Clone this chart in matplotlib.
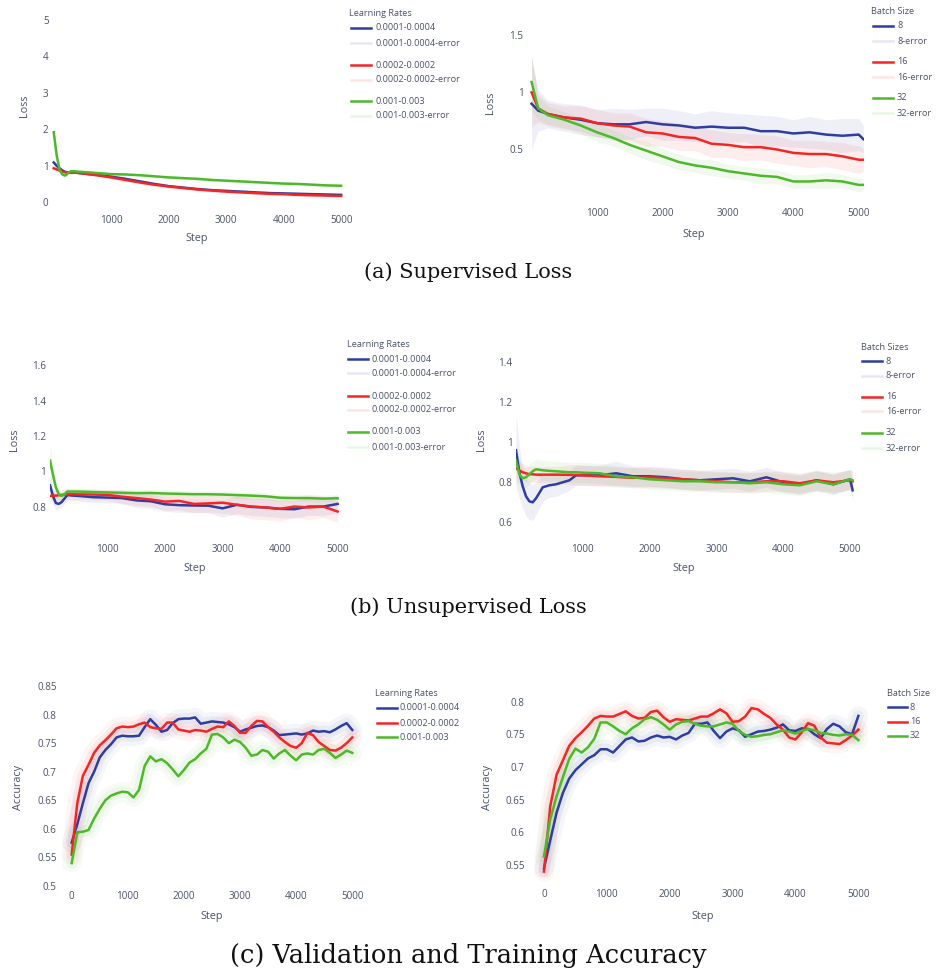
import numpy as np
import matplotlib.pyplot as plt
from matplotlib.lines import Line2D

plt.rcParams['font.family'] = ['Open Sans', 'DejaVu Sans']

W, H = 936, 976
BLUE = '#2e3d9f'
RED = '#f42525'
GREEN = '#4db82a'
TXT = '#4a5268'

# ---- (a) supervised loss, learning rates
sup_lr_steps = [0, 50, 100, 150, 200, 250, 300, 350, 400, 500, 750, 1000, 1250, 1500,
                1750, 2000, 2250, 2500, 2750, 3000, 3250, 3500, 3750, 4000, 4250, 4500, 4750, 5000]
sup_lr_blue = [1.09, 1.00, 0.93, 0.87, 0.83, 0.82, 0.81, 0.82, 0.81, 0.79, 0.75, 0.70, 0.64, 0.57,
               0.50, 0.44, 0.40, 0.36, 0.33, 0.31, 0.29, 0.27, 0.25, 0.24, 0.23, 0.22, 0.21, 0.20]
sup_lr_red = [0.93, 0.90, 0.87, 0.84, 0.82, 0.81, 0.81, 0.82, 0.81, 0.79, 0.74, 0.68, 0.61, 0.54,
              0.48, 0.43, 0.39, 0.35, 0.32, 0.29, 0.27, 0.25, 0.23, 0.22, 0.20, 0.19, 0.18, 0.17]
sup_lr_green = [1.92, 1.30, 0.90, 0.76, 0.73, 0.80, 0.85, 0.85, 0.84, 0.83, 0.80, 0.77, 0.76, 0.74,
                0.71, 0.68, 0.66, 0.64, 0.61, 0.59, 0.57, 0.55, 0.53, 0.51, 0.50, 0.48, 0.46, 0.45]
sup_lr_blue_err = [0.08, 0.07, 0.06, 0.05, 0.04, 0.04, 0.04, 0.04, 0.04, 0.04, 0.04, 0.05, 0.04, 0.04,
                   0.05, 0.04, 0.04, 0.05, 0.04, 0.04, 0.05, 0.04, 0.04, 0.05, 0.04, 0.04, 0.05, 0.04]
sup_lr_red_err = [0.07, 0.06, 0.05, 0.04, 0.04, 0.04, 0.04, 0.04, 0.04, 0.04, 0.04, 0.04, 0.05, 0.04,
                  0.04, 0.05, 0.04, 0.04, 0.05, 0.04, 0.04, 0.04, 0.05, 0.04, 0.04, 0.04, 0.04, 0.04]
sup_lr_green_err = [0.20, 0.15, 0.10, 0.06, 0.05, 0.04, 0.04, 0.04, 0.04, 0.04, 0.04, 0.04, 0.04, 0.04,
                    0.04, 0.04, 0.04, 0.04, 0.04, 0.04, 0.04, 0.04, 0.04, 0.04, 0.04, 0.04, 0.04, 0.04]

# ---- (a) supervised loss, batch size
sup_bs_steps = [0, 100, 250, 500, 750, 1000, 1250, 1500, 1750, 2000, 2250, 2500, 2750, 3000,
                3250, 3500, 3750, 4000, 4250, 4500, 4750, 5000, 5070]
sup_bs_8 = [0.90, 0.84, 0.81, 0.78, 0.76, 0.73, 0.72, 0.72, 0.74, 0.72, 0.71, 0.69, 0.70, 0.69,
            0.69, 0.66, 0.66, 0.64, 0.65, 0.63, 0.62, 0.63, 0.59]
sup_bs_16 = [1.00, 0.86, 0.81, 0.78, 0.77, 0.73, 0.71, 0.70, 0.65, 0.64, 0.61, 0.60, 0.55, 0.54,
             0.52, 0.52, 0.50, 0.47, 0.46, 0.46, 0.44, 0.41, 0.41]
sup_bs_32 = [1.09, 0.86, 0.80, 0.76, 0.71, 0.65, 0.60, 0.54, 0.49, 0.44, 0.39, 0.36, 0.34, 0.31,
             0.29, 0.27, 0.26, 0.22, 0.22, 0.23, 0.22, 0.19, 0.19]
sup_bs_8_err = [0.40, 0.18, 0.12, 0.12, 0.13, 0.12, 0.14, 0.13, 0.12, 0.14, 0.13, 0.12, 0.14, 0.13,
                0.12, 0.14, 0.13, 0.12, 0.14, 0.13, 0.15, 0.14, 0.12]
sup_bs_16_err = [0.30, 0.12, 0.10, 0.10, 0.11, 0.12, 0.11, 0.12, 0.12, 0.11, 0.12, 0.11, 0.12, 0.11,
                 0.12, 0.11, 0.12, 0.11, 0.12, 0.11, 0.12, 0.12, 0.10]
sup_bs_32_err = [0.25, 0.10, 0.08, 0.07, 0.07, 0.08, 0.07, 0.07, 0.08, 0.07, 0.07, 0.06, 0.07, 0.06,
                 0.06, 0.07, 0.06, 0.06, 0.06, 0.07, 0.06, 0.06, 0.05]

# ---- (b) unsupervised loss, learning rates
uns_lr_steps = [0, 50, 100, 150, 200, 250, 300, 400, 500, 750, 1000, 1250, 1500, 1750, 2000,
                2250, 2500, 2750, 3000, 3250, 3500, 3750, 4000, 4250, 4500, 4750, 5000]
uns_lr_blue = [0.92, 0.86, 0.82, 0.815, 0.825, 0.845, 0.865, 0.862, 0.86, 0.853, 0.851, 0.848, 0.835,
               0.83, 0.813, 0.808, 0.806, 0.805, 0.79, 0.81, 0.798, 0.795, 0.787, 0.785, 0.80, 0.80, 0.815]
uns_lr_red = [0.86, 0.862, 0.862, 0.864, 0.866, 0.868, 0.87, 0.87, 0.869, 0.868, 0.866, 0.856, 0.848,
              0.84, 0.828, 0.832, 0.815, 0.818, 0.822, 0.81, 0.80, 0.795, 0.787, 0.80, 0.795, 0.80, 0.772]
uns_lr_green = [1.06, 0.98, 0.91, 0.87, 0.86, 0.87, 0.885, 0.885, 0.885, 0.882, 0.88, 0.878, 0.876,
                0.877, 0.874, 0.872, 0.870, 0.870, 0.868, 0.865, 0.862, 0.858, 0.850, 0.848, 0.848, 0.845, 0.847]
uns_lr_blue_err = [0.06, 0.05, 0.04, 0.03, 0.03, 0.03, 0.03, 0.03, 0.03, 0.03, 0.03, 0.03, 0.04, 0.04,
                   0.04, 0.04, 0.04, 0.04, 0.05, 0.05, 0.05, 0.05, 0.05, 0.05, 0.05, 0.05, 0.05]
uns_lr_red_err = [0.03, 0.03, 0.03, 0.03, 0.03, 0.03, 0.03, 0.03, 0.03, 0.03, 0.03, 0.04, 0.04, 0.04,
                  0.05, 0.05, 0.05, 0.05, 0.06, 0.06, 0.07, 0.07, 0.07, 0.06, 0.07, 0.06, 0.06]
uns_lr_green_err = [0.10, 0.06, 0.04, 0.03, 0.02, 0.02, 0.02, 0.02, 0.02, 0.02, 0.02, 0.02, 0.02, 0.02,
                    0.02, 0.02, 0.02, 0.02, 0.02, 0.02, 0.02, 0.02, 0.02, 0.02, 0.02, 0.02, 0.02]

# ---- (b) unsupervised loss, batch sizes
uns_bs_steps = [0, 50, 100, 150, 200, 250, 300, 400, 500, 600, 800, 900, 1000, 1250, 1500, 1750,
                2000, 2250, 2500, 2750, 3000, 3250, 3500, 3750, 4000, 4250, 4500, 4750, 5000, 5040]
uns_bs_8 = [0.96, 0.85, 0.78, 0.73, 0.705, 0.70, 0.72, 0.775, 0.785, 0.79, 0.81, 0.835, 0.835, 0.835,
            0.845, 0.83, 0.83, 0.825, 0.815, 0.81, 0.815, 0.82, 0.805, 0.825, 0.80, 0.79, 0.81, 0.79,
            0.815, 0.76]
uns_bs_16 = [0.87, 0.86, 0.85, 0.845, 0.84, 0.84, 0.838, 0.838, 0.838, 0.838, 0.837, 0.836, 0.835,
             0.83, 0.827, 0.822, 0.825, 0.82, 0.815, 0.81, 0.805, 0.80, 0.80, 0.805, 0.805, 0.795,
             0.81, 0.80, 0.81, 0.805]
uns_bs_32 = [0.91, 0.84, 0.82, 0.825, 0.84, 0.855, 0.865, 0.86, 0.857, 0.855, 0.85, 0.85, 0.848,
             0.845, 0.83, 0.825, 0.815, 0.81, 0.805, 0.805, 0.80, 0.80, 0.795, 0.80, 0.79, 0.785,
             0.805, 0.79, 0.815, 0.81]
uns_bs_8_err = [0.18, 0.13, 0.11, 0.10, 0.09, 0.09, 0.08, 0.07, 0.06, 0.06, 0.05, 0.05, 0.05, 0.05,
                0.06, 0.05, 0.05, 0.05, 0.05, 0.05, 0.05, 0.05, 0.05, 0.05, 0.05, 0.05, 0.05, 0.05,
                0.05, 0.05]
uns_bs_16_err = [0.08, 0.05, 0.04, 0.04, 0.04, 0.04, 0.04, 0.04, 0.04, 0.04, 0.05, 0.05, 0.05, 0.05,
                 0.05, 0.05, 0.05, 0.05, 0.05, 0.05, 0.05, 0.05, 0.05, 0.05, 0.05, 0.05, 0.05, 0.05,
                 0.05, 0.05]
uns_bs_32_err = [0.08, 0.06, 0.05, 0.05, 0.05, 0.05, 0.05, 0.05, 0.05, 0.05, 0.05, 0.05, 0.05, 0.05,
                 0.05, 0.05, 0.05, 0.05, 0.05, 0.05, 0.05, 0.05, 0.05, 0.05, 0.05, 0.05, 0.05, 0.05,
                 0.05, 0.05]

# ---- (c) accuracy, steps every 100
acc_steps = list(range(0, 5001, 100))
acc_lr_blue = [0.576, 0.608, 0.645, 0.680, 0.700, 0.725, 0.738, 0.748, 0.760, 0.763, 0.762, 0.762,
               0.763, 0.778, 0.792, 0.782, 0.770, 0.773, 0.785, 0.792, 0.793, 0.793, 0.795, 0.784,
               0.786, 0.788, 0.787, 0.786, 0.783, 0.778, 0.770, 0.774, 0.777, 0.780, 0.781, 0.778,
               0.772, 0.764, 0.765, 0.766, 0.767, 0.765, 0.767, 0.772, 0.770, 0.771, 0.769, 0.774,
               0.780, 0.785, 0.773]
acc_lr_red = [0.555, 0.645, 0.693, 0.712, 0.733, 0.746, 0.755, 0.765, 0.776, 0.779, 0.778, 0.779,
              0.783, 0.786, 0.778, 0.776, 0.775, 0.786, 0.786, 0.774, 0.772, 0.770, 0.773, 0.772,
              0.770, 0.775, 0.779, 0.778, 0.788, 0.780, 0.768, 0.768, 0.780, 0.789, 0.788, 0.778,
              0.770, 0.760, 0.752, 0.745, 0.742, 0.750, 0.768, 0.764, 0.752, 0.745, 0.738, 0.737,
              0.742, 0.750, 0.760]
acc_lr_green = [0.540, 0.594, 0.595, 0.598, 0.618, 0.635, 0.650, 0.658, 0.662, 0.665, 0.664, 0.655,
                0.668, 0.710, 0.727, 0.718, 0.722, 0.715, 0.704, 0.692, 0.703, 0.716, 0.722, 0.732,
                0.740, 0.765, 0.766, 0.760, 0.750, 0.756, 0.752, 0.742, 0.728, 0.730, 0.738, 0.735,
                0.723, 0.732, 0.738, 0.728, 0.720, 0.730, 0.732, 0.730, 0.738, 0.740, 0.733, 0.724,
                0.730, 0.737, 0.733]
acc_bs_8 = [0.545, 0.588, 0.630, 0.660, 0.682, 0.695, 0.704, 0.713, 0.718, 0.727, 0.727, 0.722,
            0.732, 0.742, 0.745, 0.739, 0.740, 0.745, 0.748, 0.745, 0.746, 0.742, 0.748, 0.752,
            0.766, 0.766, 0.768, 0.755, 0.744, 0.754, 0.759, 0.756, 0.746, 0.750, 0.754, 0.755,
            0.757, 0.760, 0.765, 0.756, 0.755, 0.759, 0.758, 0.750, 0.744, 0.758, 0.766, 0.762,
            0.753, 0.750, 0.778]
acc_bs_16 = [0.540, 0.640, 0.688, 0.710, 0.732, 0.744, 0.753, 0.763, 0.774, 0.778, 0.777, 0.777,
             0.781, 0.785, 0.778, 0.774, 0.775, 0.784, 0.786, 0.776, 0.769, 0.773, 0.772, 0.771,
             0.774, 0.777, 0.777, 0.782, 0.788, 0.782, 0.769, 0.770, 0.777, 0.790, 0.788, 0.781,
             0.775, 0.765, 0.757, 0.745, 0.742, 0.753, 0.767, 0.763, 0.745, 0.737, 0.736, 0.735,
             0.741, 0.748, 0.757]
acc_bs_32 = [0.563, 0.620, 0.655, 0.684, 0.712, 0.728, 0.722, 0.730, 0.743, 0.768, 0.768, 0.762,
             0.755, 0.750, 0.759, 0.765, 0.773, 0.776, 0.772, 0.765, 0.757, 0.765, 0.769, 0.770,
             0.766, 0.763, 0.762, 0.762, 0.765, 0.768, 0.766, 0.755, 0.749, 0.746, 0.747, 0.749,
             0.750, 0.753, 0.756, 0.754, 0.751, 0.755, 0.758, 0.756, 0.752, 0.751, 0.749, 0.748,
             0.750, 0.749, 0.741]

lr_labels = ['0.0001-0.0004', '0.0002-0.0002', '0.001-0.003']
bs_labels = ['8', '16', '32']
step_ticks = [1000, 2000, 3000, 4000, 5000]
acc_step_ticks = [0, 1000, 2000, 3000, 4000, 5000]

fig = plt.figure(figsize=(W / 100, H / 100), dpi=100)


def add_box(l, t, r, b, xlim, ylim):
    ax = fig.add_axes([l / W, 1 - b / H, (r - l) / W, (b - t) / H])
    for s in ax.spines.values():
        s.set_visible(False)
    ax.tick_params(length=0, labelsize=7.1, labelcolor=TXT, pad=2.5)
    ax.set_xlim(*xlim)
    ax.set_ylim(*ylim)
    return ax


def ftext(x, y, s, **kw):
    kw.setdefault('color', TXT)
    fig.text(x / W, 1 - y / H, s, **kw)


def legend(title, tx, ty, lx0, lx1, textx, rows):
    ftext(tx, ty, title, size=6.6, va='center', ha='left')
    for y, label, color, alpha in rows:
        fig.add_artist(Line2D([lx0 / W, lx1 / W], [1 - y / H, 1 - y / H],
                              color=color, alpha=alpha, lw=1.8))
        ftext(textx, y, label, size=6.6, va='center', ha='left')


def loss_panel(ax, steps, series):
    for vals, err, c in series:
        v = np.array(vals)
        e = np.array(err)
        ax.fill_between(steps, v - e, v + e, color=c, alpha=0.08, lw=0)
    for vals, err, c in series:
        ax.plot(steps, vals, color=c, lw=1.8)


def acc_panel(ax, steps, series):
    for vals, c in series:
        ax.plot(steps, vals, color=c, lw=14, alpha=0.045, solid_capstyle='round')
        ax.plot(steps, vals, color=c, lw=8, alpha=0.06, solid_capstyle='round')
    for vals, c in series:
        ax.plot(steps, vals, color=c, lw=1.8)


def err_rows(ys, labels):
    rows = []
    cols = [BLUE, RED, GREEN]
    for i, lab in enumerate(labels):
        rows.append((ys[2 * i], lab, cols[i], 1.0))
        rows.append((ys[2 * i + 1], lab + '-error', cols[i], 0.12))
    return rows


# (a) left
ax = add_box(52, 8, 344, 212, (-30, 5050), (-0.27, 5.33))
loss_panel(ax, sup_lr_steps, [(sup_lr_blue, sup_lr_blue_err, BLUE),
                              (sup_lr_red, sup_lr_red_err, RED),
                              (sup_lr_green, sup_lr_green_err, GREEN)])
ax.set_xticks(step_ticks)
ax.set_yticks([0, 1, 2, 3, 4, 5])
ax.set_yticklabels(['0', '1', '2', '3', '4', '5'])
ftext(24, 106, 'Loss', rotation=90, size=7.8, ha='center', va='center')
ftext(197, 239, 'Step', size=7.8, ha='center', va='center')
legend('Learning Rates', 349, 14, 351, 371, 376,
       err_rows([28, 43, 65, 80, 101, 116], lr_labels))

# (a) right
ax = add_box(527, 5, 864, 205, (-70, 5080), (0.014, 1.764))
loss_panel(ax, sup_bs_steps, [(sup_bs_8, sup_bs_8_err, BLUE),
                              (sup_bs_16, sup_bs_16_err, RED),
                              (sup_bs_32, sup_bs_32_err, GREEN)])
ax.set_xticks(step_ticks)
ax.set_yticks([0.5, 1, 1.5])
ax.set_yticklabels(['0.5', '1', '1.5'])
ftext(491, 103, 'Loss', rotation=90, size=7.8, ha='center', va='center')
ftext(694, 234, 'Step', size=7.8, ha='center', va='center')
legend('Batch Size', 871, 12, 873, 893, 897,
       err_rows([26, 41, 62, 77, 98, 113], bs_labels))

ftext(468, 272, '(a) Supervised Loss', family='DejaVu Serif', size=15,
      ha='center', va='center', color='#111111')

# (b) left
ax = add_box(49.5, 330, 340.5, 541, (-10, 5050), (0.605, 1.80))
loss_panel(ax, uns_lr_steps, [(uns_lr_blue, uns_lr_blue_err, BLUE),
                              (uns_lr_red, uns_lr_red_err, RED),
                              (uns_lr_green, uns_lr_green_err, GREEN)])
ax.set_xticks(step_ticks)
ax.set_yticks([0.8, 1.0, 1.2, 1.4, 1.6])
ax.set_yticklabels(['0.8', '1', '1.2', '1.4', '1.6'])
ftext(14, 440, 'Loss', rotation=90, size=7.8, ha='center', va='center')
ftext(195, 569, 'Step', size=7.8, ha='center', va='center')
legend('Learning Rates', 347, 345, 348, 368, 372,
       err_rows([359, 373, 396, 410, 432, 447], lr_labels))

# (b) right
ax = add_box(516, 330, 854, 541, (0, 5060), (0.507, 1.56))
loss_panel(ax, uns_bs_steps, [(uns_bs_8, uns_bs_8_err, BLUE),
                              (uns_bs_16, uns_bs_16_err, RED),
                              (uns_bs_32, uns_bs_32_err, GREEN)])
ax.set_xticks(step_ticks)
ax.set_yticks([0.6, 0.8, 1.0, 1.2, 1.4])
ax.set_yticklabels(['0.6', '0.8', '1', '1.2', '1.4'])
ftext(482, 440, 'Loss', rotation=90, size=7.8, ha='center', va='center')
ftext(684, 569, 'Step', size=7.8, ha='center', va='center')
legend('Batch Sizes', 861, 347, 862, 882, 886,
       err_rows([361, 376, 397, 411, 433, 448], bs_labels))

ftext(468, 607, '(b) Unsupervised Loss', family='DejaVu Serif', size=15,
      ha='center', va='center', color='#111111')

# (c) left
ax = add_box(60, 676, 362, 888, (-208, 5173), (0.4965, 0.8675))
acc_panel(ax, acc_steps, [(acc_lr_blue, BLUE), (acc_lr_red, RED), (acc_lr_green, GREEN)])
ax.set_xticks(acc_step_ticks)
ax.set_yticks([0.5, 0.55, 0.6, 0.65, 0.7, 0.75, 0.8, 0.85])
ax.set_yticklabels(['0.5', '0.55', '0.6', '0.65', '0.7', '0.75', '0.8', '0.85'])
ftext(18, 787, 'Accuracy', rotation=90, size=7.8, ha='center', va='center')
ftext(212, 917, 'Step', size=7.8, ha='center', va='center')
legend('Learning Rates', 375, 694, 377, 397, 400,
       [(708, lr_labels[0], BLUE, 1.0), (723, lr_labels[1], RED, 1.0),
        (737, lr_labels[2], GREEN, 1.0)])

# (c) right
ax = add_box(528, 676, 870, 886, (-254, 5185), (0.518, 0.839))
acc_panel(ax, acc_steps, [(acc_bs_8, BLUE), (acc_bs_16, RED), (acc_bs_32, GREEN)])
ax.set_xticks(acc_step_ticks)
ax.set_yticks([0.55, 0.6, 0.65, 0.7, 0.75, 0.8])
ax.set_yticklabels(['0.55', '0.6', '0.65', '0.7', '0.75', '0.8'])
ftext(487, 787, 'Accuracy', rotation=90, size=7.8, ha='center', va='center')
ftext(703, 916, 'Step', size=7.8, ha='center', va='center')
legend('Batch Size', 887, 694, 888, 907, 910,
       [(707, bs_labels[0], BLUE, 1.0), (722, bs_labels[1], RED, 1.0),
        (736, bs_labels[2], GREEN, 1.0)])

ftext(468, 955, '(c) Validation and Training Accuracy', family='DejaVu Serif', size=18.5,
      ha='center', va='center', color='#111111')

fig.savefig('out.png', dpi=100, facecolor='white')
